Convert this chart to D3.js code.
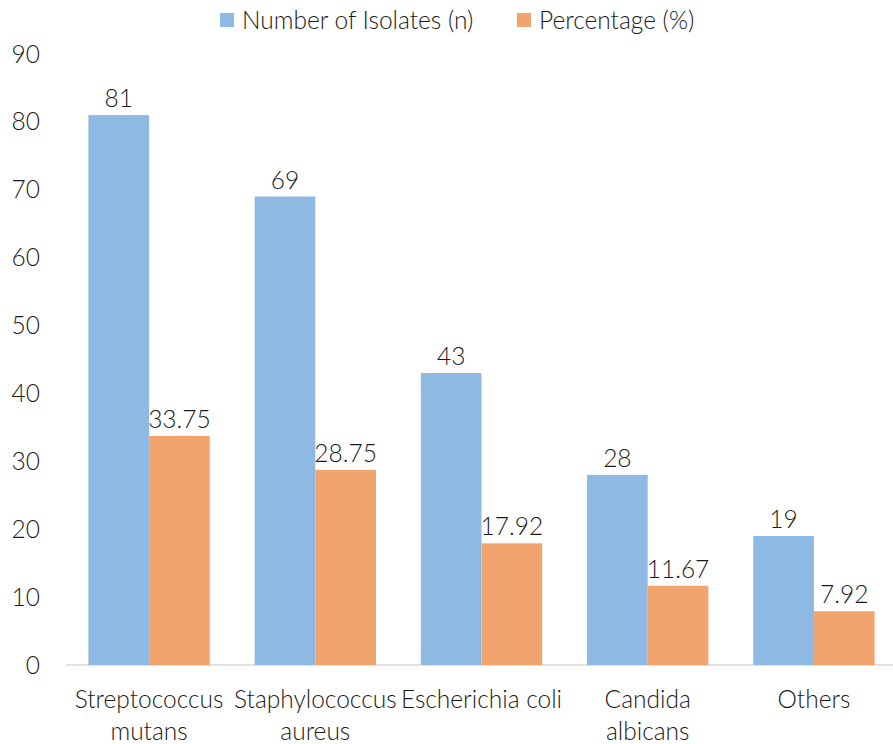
<!DOCTYPE html>
<html><head><meta charset="utf-8">
<script src="https://cdn.jsdelivr.net/npm/d3@7"></script>
<style>body{margin:0;background:#fff}text{font-family:Lato,"Open Sans",sans-serif;font-weight:300;fill:#1a1a1a}</style>
</head><body><svg id="c" width="893" height="744"></svg>
<script>
const categories = [["Streptococcus","mutans"],["Staphylococcus","aureus"],["Escherichia coli"],["Candida","albicans"],["Others"]];
const isolates = [81, 69, 43, 28, 19];
const percentage = [33.75, 28.75, 17.92, 11.67, 7.92];
const percentageLabels = ["33.75","28.75","17.92","11.67","7.92"];
const seriesNames = ["Number of Isolates (n)", "Percentage (%)"];
const colors = ["#8DB9E2", "#F1A46E"];
const yTicks = [0,10,20,30,40,50,60,70,80,90];

const svg = d3.select("#c");
const fs = 24.5;
const x0 = d3.scaleBand().domain(d3.range(categories.length)).range([66, 897]).paddingInner(0.27).paddingOuter(0.135);
const x1 = d3.scaleBand().domain([0,1]).range([0, x0.bandwidth()]);
const y = d3.scaleLinear().domain([0, 90]).range([665, 54]);

// y axis labels
svg.append("g").selectAll("text").data(yTicks).join("text")
  .attr("x", 40).attr("y", d => y(d)).attr("dy", "0.35em").attr("text-anchor", "end")
  .attr("font-size", fs).text(d => d);

// baseline
svg.append("line").attr("x1", 66).attr("x2", 893).attr("y1", y(0)).attr("y2", y(0))
  .attr("stroke", "#d9d9d9").attr("stroke-width", 1.3);

const series = [isolates, percentage];
const labels = [isolates.map(String), percentageLabels];
series.forEach((vals, s) => {
  svg.append("g").selectAll("rect").data(vals).join("rect")
    .attr("x", (d, i) => x0(i) + x1(s)).attr("width", x1.bandwidth())
    .attr("y", d => y(d)).attr("height", d => y(0) - y(d)).attr("fill", colors[s]);
  svg.append("g").selectAll("text").data(vals).join("text")
    .attr("x", (d, i) => x0(i) + x1(s) + x1.bandwidth() / 2).attr("y", d => y(d) - 8)
    .attr("text-anchor", "middle").attr("font-size", fs).text((d, i) => labels[s][i]);
});

// category labels
const cg = svg.append("g").selectAll("text").data(categories).join("text")
  .attr("x", (d, i) => x0(i) + x0.bandwidth() / 2).attr("y", 708)
  .attr("text-anchor", "middle").attr("font-size", fs);
cg.selectAll("tspan").data(d => d).join("tspan")
  .attr("x", function () { return this.parentNode.getAttribute("x"); })
  .attr("dy", (d, i) => i ? 32 : 0).text(d => d);

// legend
const legX = [220, 517];
seriesNames.forEach((n, i) => {
  svg.append("rect").attr("x", legX[i]).attr("y", 13).attr("width", 14).attr("height", 14).attr("fill", colors[i]);
  svg.append("text").attr("x", legX[i] + 22).attr("y", 20).attr("dy", "0.35em").attr("font-size", fs).text(n);
});
</script></body></html>
